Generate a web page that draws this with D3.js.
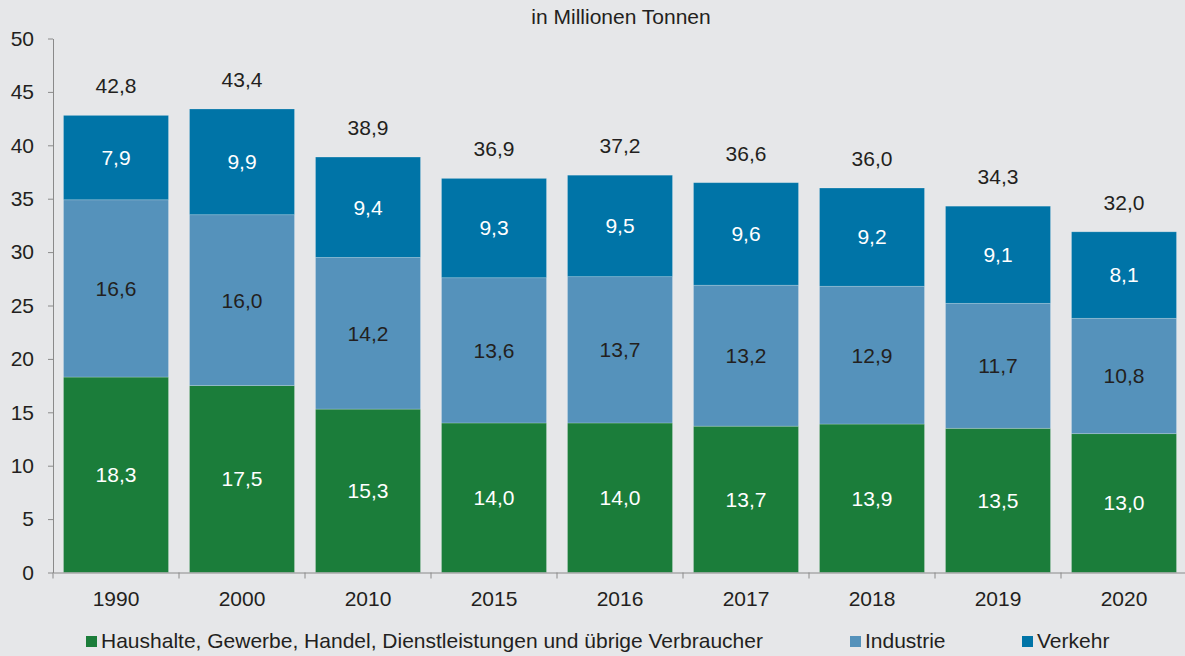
<!DOCTYPE html>
<html>
<head>
<meta charset="utf-8">
<script src="https://cdn.jsdelivr.net/npm/d3@7"></script>
<style>
  body { margin: 0; background: #e6e7e9; }
  svg { display: block; font-family: "Liberation Sans", Arial, sans-serif; }
</style>
</head>
<body>
<svg id="chart"></svg>
<script>
// data
const years = ["1990", "2000", "2010", "2015", "2016", "2017", "2018", "2019", "2020"];
const haushalte = [18.3, 17.5, 15.3, 14.0, 14.0, 13.7, 13.9, 13.5, 13.0];
const industrie = [16.6, 16.0, 14.2, 13.6, 13.7, 13.2, 12.9, 11.7, 10.8];
const verkehr = [7.9, 9.9, 9.4, 9.3, 9.5, 9.6, 9.2, 9.1, 8.1];
const totals = [42.8, 43.4, 38.9, 36.9, 37.2, 36.6, 36.0, 34.3, 32.0];
const yTicks = [0, 5, 10, 15, 20, 25, 30, 35, 40, 45, 50];

const seriesNames = ["Haushalte, Gewerbe, Handel, Dienstleistungen und übrige Verbraucher", "Industrie", "Verkehr"];
const seriesColors = ["#1b7d3a", "#5592bb", "#0074a7"];
const labelColors = ["#ffffff", "#231f20", "#ffffff"];

const width = 1185, height = 656;
const plotLeft = 53, plotRight = 1187, plotTop = 38.5, plotBottom = 572.5;
const textColor = "#231f20";
const fontSize = 21;
const fmt = v => d3.format(".1f")(v).replace(".", ",");

const svg = d3.select("#chart")
  .attr("width", width)
  .attr("height", height);

svg.append("rect")
  .attr("width", width)
  .attr("height", height)
  .attr("fill", "#e6e7e9");

// scales
const x = d3.scaleBand()
  .domain(years)
  .range([plotLeft, plotRight])
  .paddingInner(1 / 6)
  .paddingOuter(1 / 12);

const xSlot = d3.scaleBand()
  .domain(years)
  .range([plotLeft, plotRight]);

const y = d3.scaleLinear()
  .domain([0, 50])
  .range([plotBottom, plotTop]);

// stack the three series
const rows = years.map((yr, i) => ({ year: yr, s0: haushalte[i], s1: industrie[i], s2: verkehr[i] }));
const stacked = d3.stack().keys(["s0", "s1", "s2"])(rows);

// title
svg.append("text")
  .attr("x", 621)
  .attr("y", 24)
  .attr("text-anchor", "middle")
  .attr("font-size", fontSize)
  .attr("fill", textColor)
  .text("in Millionen Tonnen");

// bars
const layers = svg.selectAll("g.layer")
  .data(stacked)
  .enter()
  .append("g")
  .attr("class", "layer");

layers.selectAll("rect")
  .data((layer, li) => layer.map(d => ({ d, li })))
  .enter()
  .append("rect")
  .attr("x", o => x(o.d.data.year))
  .attr("y", o => y(o.d[1]))
  .attr("width", x.bandwidth())
  .attr("height", o => y(o.d[0]) - y(o.d[1]))
  .attr("fill", o => seriesColors[o.li])
  .attr("stroke", "rgba(255,255,255,0.25)")
  .attr("stroke-width", 0.8);

// segment labels
layers.selectAll("text")
  .data((layer, li) => layer.map(d => ({ d, li })))
  .enter()
  .append("text")
  .attr("x", o => x(o.d.data.year) + x.bandwidth() / 2)
  .attr("y", o => y((o.d[0] + o.d[1]) / 2))
  .attr("dy", "0.35em")
  .attr("text-anchor", "middle")
  .attr("font-size", fontSize)
  .attr("fill", o => labelColors[o.li])
  .text(o => fmt(o.d[1] - o.d[0]));

// totals above bars
svg.selectAll("text.total")
  .data(years)
  .enter()
  .append("text")
  .attr("class", "total")
  .attr("x", d => x(d) + x.bandwidth() / 2)
  .attr("y", (d, i) => y(stacked[2][i][1]) - 22)
  .attr("text-anchor", "middle")
  .attr("font-size", fontSize)
  .attr("fill", textColor)
  .text((d, i) => fmt(totals[i]));

// y axis
const yAxis = svg.append("g")
  .attr("transform", `translate(${plotLeft},0)`)
  .call(d3.axisLeft(y).tickValues(yTicks).tickSize(5).tickSizeOuter(0).tickPadding(14));
yAxis.select(".domain").attr("stroke", "#8a8a8a");
yAxis.selectAll(".tick line").attr("stroke", "#8a8a8a");
yAxis.selectAll("text")
  .attr("font-size", fontSize)
  .attr("font-family", "Liberation Sans, Arial, sans-serif")
  .attr("fill", textColor);

// x axis
const xAxis = svg.append("g")
  .attr("transform", `translate(0,${plotBottom})`)
  .call(d3.axisBottom(x).tickSize(0).tickPadding(19));
xAxis.select(".domain").attr("stroke", "#8a8a8a");
xAxis.selectAll("text")
  .attr("font-size", fontSize)
  .attr("font-family", "Liberation Sans, Arial, sans-serif")
  .attr("fill", textColor);

// tick marks between categories
xAxis.selectAll("line.sep")
  .data(years)
  .enter()
  .append("line")
  .attr("class", "sep")
  .attr("x1", d => xSlot(d))
  .attr("x2", d => xSlot(d))
  .attr("y1", 0)
  .attr("y2", 6)
  .attr("stroke", "#8a8a8a");

// legend
const legendX = [86, 850, 1022];
const legend = svg.selectAll("g.legend")
  .data(seriesNames)
  .enter()
  .append("g")
  .attr("class", "legend")
  .attr("transform", (d, i) => `translate(${legendX[i]},636)`);

legend.append("rect")
  .attr("width", 11)
  .attr("height", 11)
  .attr("fill", (d, i) => seriesColors[i]);

legend.append("text")
  .attr("x", 15)
  .attr("y", 12)
  .attr("font-size", fontSize)
  .attr("fill", textColor)
  .text(d => d);
</script>
</body>
</html>
